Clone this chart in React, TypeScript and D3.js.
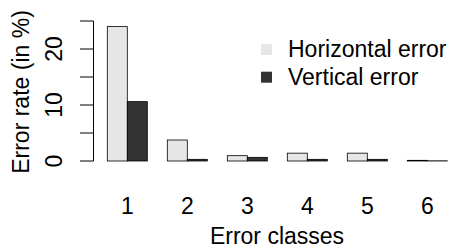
import React from 'react';
import * as d3 from 'd3';

const classes = ['1', '2', '3', '4', '5', '6'];
const horizontalError = [24.0, 3.75, 0.95, 1.4, 1.4, 0.12];
const verticalError = [10.6, 0.3, 0.65, 0.3, 0.3, 0.03];
const yTicks = [0, 5, 10, 15, 20, 25];
const yLabels = [0, 10, 20];
const seriesNames = ['Horizontal error', 'Vertical error'];
const seriesColors = ['#e6e6e6', '#333333'];

const App: React.FC = () => {
  const width = 449;
  const height = 248;
  const font = 'Liberation Sans, Arial, Helvetica, sans-serif';
  const fs = 23;

  // x in "bar units": each group = 2 bars + 1 gap
  const x = d3.scaleLinear().domain([0, 18]).range([87.3, 447.3]);
  const y = d3.scaleLinear().domain([0, 25]).range([161, 21]);

  const series = [horizontalError, verticalError];

  return (
    <svg width={width} height={height} style={{ position: 'absolute', left: 0, top: 0 }} fontFamily={font}>
      <rect width={width} height={height} fill="#fff" />
      {classes.map((c, i) =>
        series.map((s, j) => {
          const x0 = x(i * 3 + 1 + j);
          const x1 = x(i * 3 + 2 + j);
          return (
            <rect
              key={`${c}-${j}`}
              x={x0}
              y={y(s[i])}
              width={x1 - x0}
              height={y(0) - y(s[i])}
              fill={seriesColors[j]}
              stroke="#000"
              strokeWidth={0.8}
            />
          );
        })
      )}
      {classes.map((c, i) => (
        <text key={c} x={x(i * 3 + 2)} y={214} textAnchor="middle" fontSize={fs}>
          {c}
        </text>
      ))}
      <text x={277} y={244} textAnchor="middle" fontSize={fs}>
        Error classes
      </text>
      {/* y axis */}
      <line x1={93.5} x2={93.5} y1={y(0)} y2={y(25)} stroke="#000" strokeWidth={1} />
      {yTicks.map(t => (
        <line key={t} x1={80} x2={93.5} y1={y(t)} y2={y(t)} stroke="#000" strokeWidth={1} />
      ))}
      {yLabels.map(t => (
        <text
          key={t}
          transform={`translate(62, ${y(t)}) rotate(-90)`}
          textAnchor="middle"
          fontSize={fs}
        >
          {t}
        </text>
      ))}
      <text transform="translate(28.5, 92) rotate(-90)" textAnchor="middle" fontSize={fs}>
        Error rate (in %)
      </text>
      {/* legend */}
      {seriesNames.map((n, j) => (
        <g key={n}>
          <rect x={261} y={44 + j * 27.7} width={11} height={11} fill={seriesColors[j]} />
          <text x={288} y={57.3 + j * 27.7} fontSize={fs}>
            {n}
          </text>
        </g>
      ))}
    </svg>
  );
};

export default App;
